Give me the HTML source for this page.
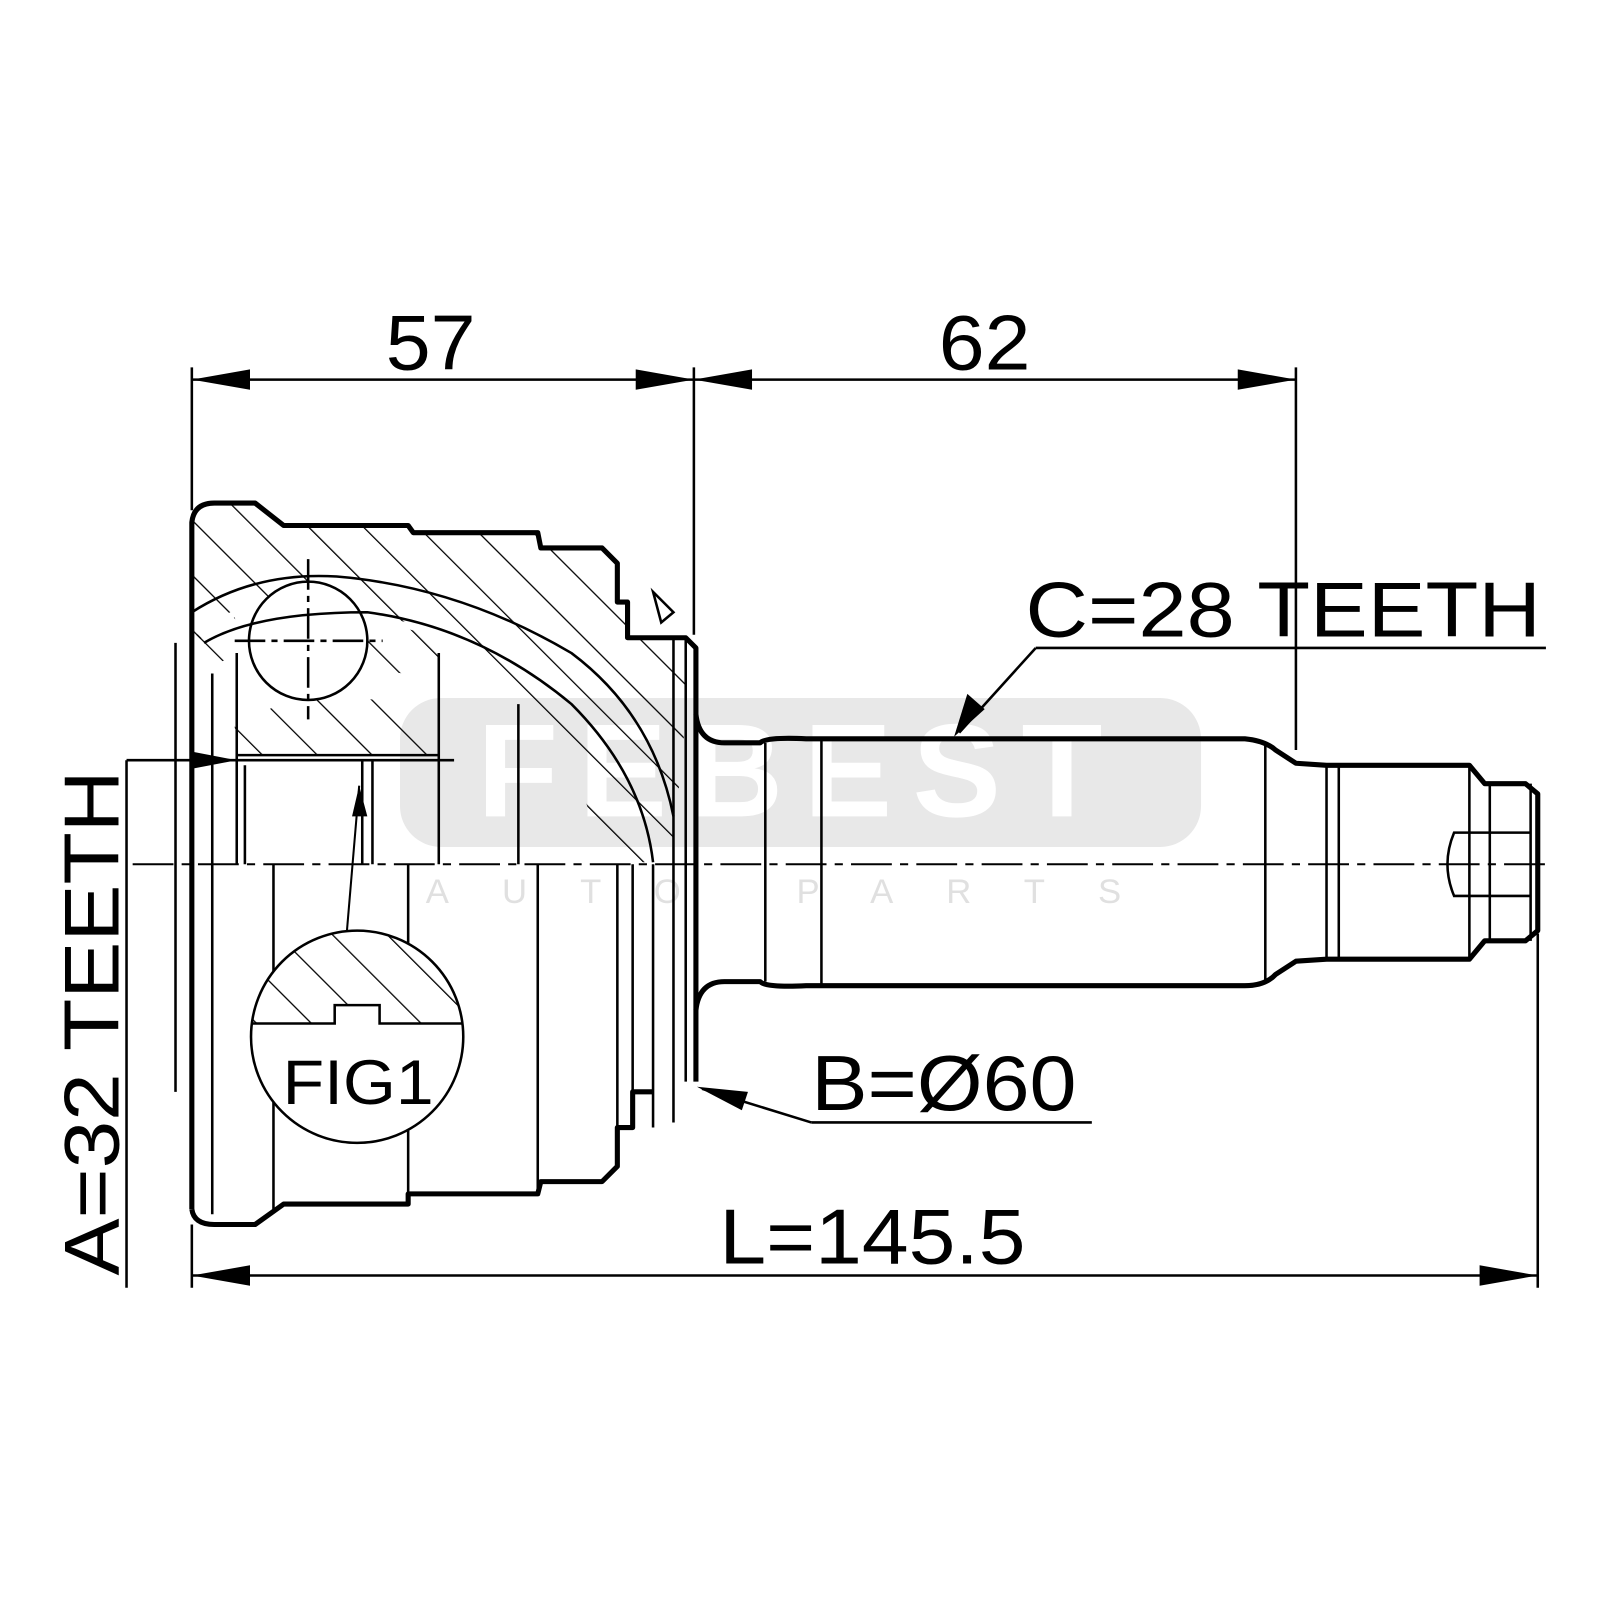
<!DOCTYPE html>
<html><head><meta charset="utf-8"><style>html,body{margin:0;padding:0;background:#fff}svg{display:block}</style></head>
<body>
<svg width="1600" height="1600" viewBox="0 0 1568 1568" xmlns="http://www.w3.org/2000/svg" font-family="Liberation Sans, sans-serif">
<defs>
<pattern id="h" patternUnits="userSpaceOnUse" width="38" height="38" patternTransform="rotate(-45)">
<line x1="0" y1="0" x2="0" y2="38" stroke="#000" stroke-width="2.5"/>
</pattern>
<clipPath id="fc"><circle cx="350" cy="1016" r="104"/></clipPath>
</defs>
<rect width="1568" height="1568" fill="#fff"/>
<!-- watermark -->
<rect x="392" y="684" width="785" height="146" rx="40" fill="#e8e8e8"/>
<text x="784" y="800" text-anchor="middle" font-size="130" font-weight="bold" fill="#fff" letter-spacing="20">FEBEST</text>
<text x="784" y="885" text-anchor="middle" font-size="34" fill="#e0e0e0" letter-spacing="52">AUTO PARTS</text>

<g fill="none" stroke="#000" stroke-width="2.5">
<line x1="188" y1="360" x2="188" y2="500"/>
<line x1="680" y1="360" x2="680" y2="622"/>
<line x1="1270" y1="360" x2="1270" y2="735"/>
<line x1="188" y1="372" x2="680" y2="372"/>
<line x1="680" y1="372" x2="1270" y2="372"/>
<line x1="188" y1="1200" x2="188" y2="1262"/>
<line x1="1507" y1="915" x2="1507" y2="1262"/>
<line x1="188" y1="1250" x2="1507" y2="1250"/>
<line x1="124" y1="745" x2="124" y2="1262"/>
<line x1="124" y1="745" x2="445" y2="745"/>
<line x1="1015" y1="635" x2="1515" y2="635"/>
<line x1="1015" y1="635" x2="940" y2="718"/>
<line x1="795" y1="1100" x2="1070" y2="1100"/>
<line x1="795" y1="1100" x2="688" y2="1067"/>
<line x1="130" y1="847" x2="1520" y2="847" stroke-dasharray="40,8,8,8" stroke-width="2"/>
</g>
<g fill="#000">
<polygon points="188,372 245,362 245,382"/>
<polygon points="680,372 623,362 623,382"/>
<polygon points="680,372 737,362 737,382"/>
<polygon points="1270,372 1213,362 1213,382"/>
<polygon points="188,1250 245,1240 245,1260"/>
<polygon points="1507,1250 1450,1240 1450,1260"/>
<polygon points="232,745 190,737 190,753"/>
<polygon points="935,722 948,680 965,695"/>
<polygon points="683,1065 733,1070 727,1088"/>
<polygon points="352,770 345,800 360,800"/>
</g>
<line x1="352" y1="770" x2="340" y2="912" stroke="#000" stroke-width="2"/>

<path d="M188,640 L188,512 Q190,493 210,493 L250,493 L278,515 L400,515 L405,522 L527,522 L530,537 L590,537 L605,552 L605,590 L615,590 L615,625 L670,625 L672,700 Q665,790 655,845 L590,845 Q560,700 470,640 Q380,590 250,590 Q210,600 188,640 Z" fill="url(#h)"/>
<path d="M230,712 Q300,670 360,685 Q420,690 430,712 L430,740 L232,740 Z" fill="url(#h)"/>
<path d="M360,605 L430,625 L430,665 L360,655 Z" fill="url(#h)"/>
<path d="M175,630 L230,605 L240,640 L185,660 Z" fill="url(#h)"/>
<circle cx="302" cy="628" r="58" fill="#fff" stroke="#000" stroke-width="2.5"/>

<g fill="none" stroke="#000" stroke-width="5" stroke-linejoin="round">
<path d="M188,1185 L188,512 Q190,493 210,493 L250,493 L278,515 L400,515 L405,522 L527,522 L530,537 L590,537 L605,552 L605,590 L615,590 L615,625 L672,625 L682,635 L682,1060"/>
<path d="M188,1185 Q190,1200 210,1200 L250,1200 L278,1180 L400,1180 L400,1170 L527,1170 L530,1158 L590,1158 L605,1143 L605,1105 L620,1105 L620,1070 L640,1070"/>
<path d="M682,700 Q685,728 710,728 L745,728 Q750,722 790,724 L1220,724 Q1240,726 1250,735 L1270,748 L1300,750 L1440,750 L1455,768 L1495,768 L1507,778 L1507,912 L1495,922 L1455,922 L1440,940 L1300,940 L1270,942 L1250,955 Q1240,966 1220,966 L790,966 Q750,968 745,962 L710,962 Q685,962 682,990"/>
</g>
<g fill="none" stroke="#000" stroke-width="2.5">
<line x1="750" y1="728" x2="750" y2="962"/>
<line x1="805" y1="726" x2="805" y2="966"/>
<line x1="1240" y1="728" x2="1240" y2="962"/>
<line x1="1300" y1="750" x2="1300" y2="940"/>
<line x1="1312" y1="750" x2="1312" y2="940"/>
<line x1="1440" y1="750" x2="1440" y2="940"/>
<line x1="1460" y1="768" x2="1460" y2="922"/>
<line x1="1500" y1="768" x2="1500" y2="922"/>
<path d="M1500,816 L1425,816 Q1412,847 1425,878 L1500,878"/>
<path d="M188,600 Q250,560 330,565 Q450,575 560,640 Q640,700 660,800"/>
<path d="M200,630 Q250,600 360,600 Q470,615 560,690 Q630,760 640,845"/>
<line x1="172" y1="630" x2="172" y2="1070"/>
<line x1="208" y1="660" x2="208" y2="1190"/>
<line x1="232" y1="640" x2="232" y2="847"/>
<line x1="268" y1="847" x2="268" y2="1185"/>
<line x1="400" y1="847" x2="400" y2="1175"/>
<line x1="430" y1="640" x2="430" y2="847"/>
<line x1="508" y1="690" x2="508" y2="847"/>
<line x1="527" y1="847" x2="527" y2="1165"/>
<line x1="605" y1="847" x2="605" y2="1145"/>
<line x1="620" y1="847" x2="620" y2="1105"/>
<line x1="640" y1="847" x2="640" y2="1105"/>
<line x1="660" y1="625" x2="660" y2="1100"/>
<line x1="672" y1="625" x2="672" y2="1060"/>
<line x1="232" y1="740" x2="430" y2="740"/>
<line x1="240" y1="750" x2="240" y2="847"/>
<line x1="355" y1="745" x2="355" y2="847"/>
<line x1="365" y1="745" x2="365" y2="847"/>
<line x1="302" y1="548" x2="302" y2="705" stroke-dasharray="30,6,6,6"/>
<line x1="230" y1="628" x2="375" y2="628" stroke-dasharray="30,6,6,6"/>
<path d="M640,580 L648,610 L660,600 Z"/>
</g>
<circle cx="350" cy="1016" r="104" fill="#fff" stroke="#000" stroke-width="2.5"/>
<path d="M240,1003 L328,1003 L328,985 L372,985 L372,1003 L460,1003 L460,900 L240,900 Z" fill="url(#h)" clip-path="url(#fc)" stroke="none"/>
<path d="M246,1003 L328,1003 L328,985 L372,985 L372,1003 L454,1003" fill="none" stroke="#000" stroke-width="2.5"/>
<text x="277" y="1082" font-size="62" textLength="148" lengthAdjust="spacingAndGlyphs">FIG1</text>

<text x="378" y="362" font-size="76" textLength="88" lengthAdjust="spacingAndGlyphs">57</text>
<text x="920" y="362" font-size="76" textLength="90" lengthAdjust="spacingAndGlyphs">62</text>
<text x="1005" y="624" font-size="76" textLength="505" lengthAdjust="spacingAndGlyphs">C=28 TEETH</text>
<text x="795" y="1088" font-size="76" textLength="260" lengthAdjust="spacingAndGlyphs">B=Ø60</text>
<text x="705" y="1238" font-size="76" textLength="300" lengthAdjust="spacingAndGlyphs">L=145.5</text>
<text transform="translate(116,1250) rotate(-90)" font-size="76" textLength="495" lengthAdjust="spacingAndGlyphs">A=32 TEETH</text>
</svg>
</body></html>
